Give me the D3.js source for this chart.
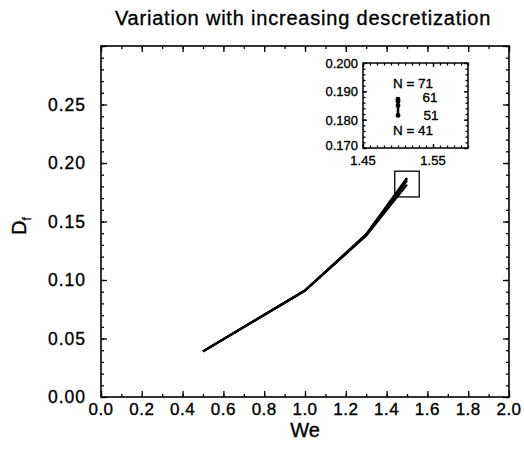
<!DOCTYPE html>
<html><head><meta charset="utf-8">
<script src="https://cdn.jsdelivr.net/npm/d3@7"></script>
<style>body{margin:0;background:#fff}svg{display:block}text{font-family:"Liberation Sans",Arial,Helvetica,sans-serif;fill:#000;stroke:#000;stroke-width:0.35px}</style>
</head><body><svg id="c" width="524" height="449"></svg>
<script>
const weValues = [0.5, 1.0, 1.3, 1.5];
const seriesN = [41, 51, 61, 71];
const dfN41 = [0.039, 0.091, 0.138, 0.1815];
const dfN51 = [0.039, 0.091, 0.138, 0.1850];
const dfN61 = [0.039, 0.091, 0.139, 0.1865];
const dfN71 = [0.039, 0.091, 0.139, 0.1872];
const xTicks = [0.0,0.2,0.4,0.6,0.8,1.0,1.2,1.4,1.6,1.8,2.0];
const yTicks = [0.00,0.05,0.10,0.15,0.20,0.25];
const insetXTicks = [1.45, 1.55];
const insetYTicks = [0.170, 0.180, 0.190, 0.200];
const zoomBoxX = [1.44, 1.56];
const zoomBoxY = [0.171, 0.193];
const insetLabels = ["N = 71", "61", "51", "N = 41"];

const svg = d3.select("#c");
const L=101, R=509, T=46, B=397;
const x = d3.scaleLinear().domain([0,2]).range([L,R]);
const y = d3.scaleLinear().domain([0,0.30]).range([B,T]);

svg.append("rect").attr("x",L).attr("y",T).attr("width",R-L).attr("height",B-T)
  .attr("fill","none").attr("stroke","#000").attr("stroke-width",1.6);

function ticks(g, axisFn, scale, vals, size){
  const a = axisFn(scale).tickValues(vals).tickSize(size).tickFormat("");
  g.call(a); g.select(".domain").remove();
  g.selectAll(".tick line").attr("stroke","#000").attr("stroke-width",1.3);
}
const xMinor = d3.range(0,2.0001,0.1);
const yMinor = d3.range(0,0.3001,0.01);
ticks(svg.append("g").attr("transform",`translate(0,${B})`), d3.axisTop, x, xMinor, 3);
ticks(svg.append("g").attr("transform",`translate(0,${B})`), d3.axisTop, x, xTicks, 6);
ticks(svg.append("g").attr("transform",`translate(0,${T})`), d3.axisBottom, x, xMinor, 3);
ticks(svg.append("g").attr("transform",`translate(0,${T})`), d3.axisBottom, x, xTicks, 6);
ticks(svg.append("g").attr("transform",`translate(${L},0)`), d3.axisRight, y, yMinor, 3);
ticks(svg.append("g").attr("transform",`translate(${L},0)`), d3.axisRight, y, yTicks.concat([0.30]), 6);
ticks(svg.append("g").attr("transform",`translate(${R},0)`), d3.axisLeft, y, yMinor, 3);
ticks(svg.append("g").attr("transform",`translate(${R},0)`), d3.axisLeft, y, yTicks.concat([0.30]), 6);

svg.append("g").selectAll("text").data(xTicks).join("text")
  .attr("x",d=>x(d)).attr("y",B+18).attr("text-anchor","middle")
  .attr("font-size",17).attr("letter-spacing",0.5).text(d=>d.toFixed(1));
svg.append("g").selectAll("text").data(yTicks).join("text")
  .attr("x",L-15).attr("y",d=>y(d)+6).attr("text-anchor","end")
  .attr("font-size",17.5).attr("letter-spacing",1).text(d=>d.toFixed(2));

svg.append("text").attr("x",(L+R)/2).attr("y",B+40).attr("text-anchor","middle")
  .attr("font-size",20).text("We");
const yl = svg.append("text").attr("transform","translate(26,226) rotate(-90)")
  .attr("text-anchor","middle").attr("font-size",20);
yl.append("tspan").text("D");
yl.append("tspan").attr("font-size",12).attr("dy",5).text("f");
svg.append("text").attr("x",303).attr("y",25).attr("text-anchor","middle")
  .attr("font-size",20).attr("letter-spacing",0.8).text("Variation with increasing descretization");

const allSeries = [dfN41, dfN51, dfN61, dfN71];
const line = d3.line().x((d,i)=>x(weValues[i])).y(d=>y(d));
svg.append("g").selectAll("path").data(allSeries).join("path")
  .attr("d",line).attr("fill","none").attr("stroke","#000").attr("stroke-width",2.2)
  .attr("stroke-linejoin","round");

svg.append("rect").attr("x",x(zoomBoxX[0])).attr("y",y(zoomBoxY[1]))
  .attr("width",x(zoomBoxX[1])-x(zoomBoxX[0])).attr("height",y(zoomBoxY[0])-y(zoomBoxY[1]))
  .attr("fill","none").attr("stroke","#000").attr("stroke-width",1.3);

const iL=363, iR=468, iT=63, iB=148;
const ix = d3.scaleLinear().domain([1.45,1.60]).range([iL,iR]);
const iy = d3.scaleLinear().domain([0.170,0.200]).range([iB,iT]);
svg.append("rect").attr("x",iL).attr("y",iT).attr("width",iR-iL).attr("height",iB-iT)
  .attr("fill","#fff").attr("stroke","#000").attr("stroke-width",1.5);
const ixMinor = d3.range(1.45,1.6001,0.01);
const iyMinor = d3.range(0.170,0.2001,0.002);
ticks(svg.append("g").attr("transform",`translate(0,${iB})`), d3.axisTop, ix, ixMinor, 2.5);
ticks(svg.append("g").attr("transform",`translate(0,${iB})`), d3.axisTop, ix, insetXTicks, 4);
ticks(svg.append("g").attr("transform",`translate(0,${iT})`), d3.axisBottom, ix, ixMinor, 2.5);
ticks(svg.append("g").attr("transform",`translate(0,${iT})`), d3.axisBottom, ix, insetXTicks, 4);
ticks(svg.append("g").attr("transform",`translate(${iL},0)`), d3.axisRight, iy, iyMinor, 2.5);
ticks(svg.append("g").attr("transform",`translate(${iL},0)`), d3.axisRight, iy, insetYTicks, 4);
ticks(svg.append("g").attr("transform",`translate(${iR},0)`), d3.axisLeft, iy, iyMinor, 2.5);
ticks(svg.append("g").attr("transform",`translate(${iR},0)`), d3.axisLeft, iy, insetYTicks, 4);
svg.append("g").selectAll("text").data(insetXTicks).join("text")
  .attr("x",d=>ix(d)).attr("y",iB+17).attr("text-anchor","middle")
  .attr("font-size",13).text(d=>d.toFixed(2));
svg.append("g").selectAll("text").data(insetYTicks).join("text")
  .attr("x",iL-5).attr("y",d=>iy(d)+(d===0.170?2:5)).attr("text-anchor","end")
  .attr("font-size",13).text(d=>d.toFixed(3));

const endVals = allSeries.map(s=>s[s.length-1]);
const endWe = weValues[weValues.length-1];
svg.append("line").attr("x1",ix(endWe)).attr("x2",ix(endWe))
  .attr("y1",iy(d3.min(endVals))).attr("y2",iy(d3.max(endVals)))
  .attr("stroke","#000").attr("stroke-width",2.5);
svg.append("g").selectAll("circle").data(endVals).join("circle")
  .attr("cx",ix(endWe)).attr("cy",d=>iy(d)).attr("r",2.4).attr("fill","#000");

const labPos = [[413,88],[430,102],[431,120],[413,135]];
svg.append("g").selectAll("text").data(insetLabels).join("text")
  .attr("x",(d,i)=>labPos[i][0]).attr("y",(d,i)=>labPos[i][1]).attr("text-anchor","middle")
  .attr("font-size",13.5).text(d=>d);
</script></body></html>
